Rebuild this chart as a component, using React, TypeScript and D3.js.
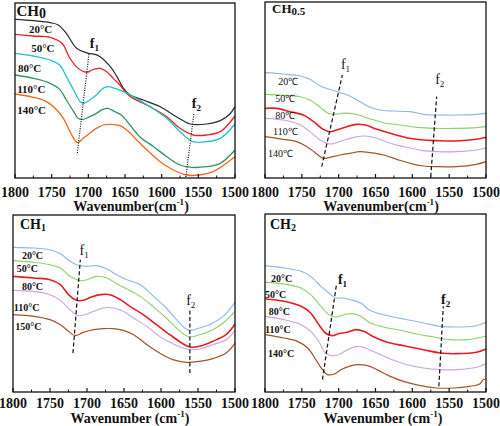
import React from 'react';
import * as d3 from 'd3';

type Pt = [number, number];

// Wavenumber ticks (cm-1)
const wnTicks = [1800, 1750, 1700, 1650, 1600, 1550, 1500];
const wnMinorTicks = [1775, 1725, 1675, 1625, 1575, 1525];

// ---------- CH0 : [wavenumber, offset intensity (a.u., downward)] ----------
const ch0_20: Pt[] = [[1800,58],[1775,62],[1752,68],[1741,75],[1730,100],[1716,145],[1700,160],[1691,163],[1684,170],[1670,200],[1661,230],[1652,265],[1643,285],[1625,300],[1602,320],[1580,350],[1561,372],[1539,372],[1520,362],[1507,342],[1500,320]];
const ch0_50: Pt[] = [[1800,103],[1775,108],[1752,112],[1736,130],[1725,175],[1714,205],[1702,217],[1695,210],[1684,205],[1675,215],[1666,235],[1657,255],[1648,280],[1639,295],[1616,320],[1593,350],[1575,385],[1557,405],[1539,405],[1520,395],[1500,348]];
const ch0_80: Pt[] = [[1800,160],[1775,168],[1752,180],[1739,195],[1730,230],[1720,270],[1711,305],[1706,310],[1698,300],[1689,285],[1680,265],[1673,260],[1664,265],[1652,275],[1639,290],[1616,320],[1593,355],[1575,395],[1557,425],[1539,425],[1520,415],[1500,372]];
const ch0_110: Pt[] = [[1800,225],[1775,235],[1752,250],[1739,268],[1730,300],[1720,335],[1714,355],[1707,358],[1698,350],[1689,340],[1680,328],[1673,325],[1664,335],[1655,345],[1645,370],[1630,410],[1611,440],[1593,470],[1575,495],[1559,502],[1539,500],[1520,490],[1500,450]];
const ch0_140: Pt[] = [[1800,282],[1775,292],[1757,305],[1743,330],[1734,355],[1725,395],[1715,428],[1707,415],[1698,400],[1689,385],[1680,375],[1670,373],[1657,377],[1645,395],[1634,420],[1620,450],[1602,485],[1584,510],[1566,525],[1548,525],[1530,515],[1500,470]];

// ---------- CH0.5 ----------
const ch05_20: Pt[] = [[1800,218],[1775,222],[1752,228],[1739,238],[1725,258],[1712,268],[1698,278],[1685,288],[1671,305],[1657,322],[1644,330],[1626,333],[1603,335],[1585,343],[1567,345],[1540,345],[1513,343],[1500,340]];
const ch05_50: Pt[] = [[1800,283],[1775,286],[1752,290],[1739,300],[1725,322],[1714,340],[1705,343],[1696,340],[1685,340],[1673,345],[1657,357],[1639,368],[1617,375],[1594,382],[1571,385],[1540,385],[1513,383],[1500,380]];
const ch05_80: Pt[] = [[1800,325],[1784,325],[1766,335],[1748,345],[1734,365],[1723,385],[1712,395],[1703,390],[1689,380],[1676,373],[1664,375],[1648,388],[1630,400],[1608,413],[1585,420],[1567,422],[1540,423],[1513,418],[1500,412]];
const ch05_110: Pt[] = [[1800,355],[1775,360],[1752,375],[1739,395],[1725,420],[1712,432],[1703,428],[1689,418],[1676,410],[1664,408],[1648,415],[1630,430],[1608,442],[1585,452],[1567,455],[1540,455],[1513,450],[1500,444]];
const ch05_140: Pt[] = [[1800,410],[1775,418],[1757,425],[1743,440],[1732,458],[1721,475],[1712,472],[1698,465],[1685,460],[1671,455],[1657,458],[1639,465],[1621,478],[1603,490],[1585,498],[1567,500],[1540,500],[1513,493],[1500,485]];

// ---------- CH1 ----------
const ch1_20: Pt[] = [[1800,103],[1772,105],[1750,110],[1736,122],[1723,145],[1712,157],[1700,160],[1687,158],[1673,168],[1660,185],[1646,200],[1628,215],[1611,248],[1593,285],[1579,320],[1568,345],[1561,352],[1548,345],[1530,330],[1516,310],[1500,268]];
const ch1_50: Pt[] = [[1800,143],[1772,148],[1750,155],[1736,165],[1723,190],[1709,203],[1700,200],[1687,190],[1673,195],[1660,212],[1646,228],[1628,250],[1611,280],[1593,315],[1579,345],[1568,365],[1561,372],[1548,365],[1530,350],[1516,330],[1500,295]];
const ch1_80: Pt[] = [[1800,190],[1772,195],[1750,200],[1736,215],[1725,245],[1714,262],[1705,262],[1694,252],[1682,245],[1669,245],[1655,260],[1642,280],[1624,305],[1606,335],[1588,365],[1572,390],[1561,402],[1548,400],[1530,385],[1512,365],[1500,333]];
const ch1_110: Pt[] = [[1800,232],[1772,235],[1750,245],[1736,262],[1723,290],[1712,308],[1703,305],[1691,295],[1678,285],[1664,285],[1651,295],[1637,315],[1619,340],[1602,370],[1584,392],[1570,405],[1561,410],[1548,408],[1530,395],[1512,380],[1500,352]];
const ch1_150: Pt[] = [[1800,305],[1772,310],[1750,320],[1736,335],[1725,355],[1716,368],[1705,358],[1691,350],[1678,347],[1664,347],[1651,352],[1637,365],[1619,395],[1602,420],[1584,440],[1566,448],[1548,445],[1530,437],[1512,420],[1505,405],[1500,390]];

// ---------- CH2 ----------
const ch2_20: Pt[] = [[1800,158],[1774,165],[1751,175],[1738,190],[1724,220],[1713,240],[1704,255],[1695,255],[1684,260],[1670,270],[1659,290],[1648,300],[1630,310],[1607,320],[1585,330],[1562,340],[1540,342],[1513,338],[1500,328]];
const ch2_50: Pt[] = [[1800,208],[1774,213],[1751,225],[1738,245],[1724,280],[1713,305],[1704,312],[1693,305],[1682,302],[1670,310],[1657,330],[1639,342],[1616,352],[1594,363],[1571,372],[1549,380],[1526,380],[1500,370]];
const ch2_80: Pt[] = [[1800,258],[1774,265],[1751,280],[1738,300],[1727,335],[1718,360],[1709,368],[1700,362],[1688,358],[1677,350],[1666,355],[1652,372],[1634,388],[1612,398],[1585,410],[1562,420],[1540,422],[1513,418],[1500,408]];
const ch2_110: Pt[] = [[1800,310],[1774,320],[1751,335],[1738,355],[1727,385],[1718,420],[1709,428],[1700,425],[1688,410],[1675,400],[1664,405],[1648,420],[1630,438],[1607,455],[1585,465],[1562,470],[1540,470],[1513,463],[1500,452]];
const ch2_140: Pt[] = [[1800,365],[1774,375],[1756,385],[1742,405],[1731,440],[1722,470],[1715,485],[1706,483],[1697,470],[1686,460],[1675,455],[1661,458],[1648,470],[1630,490],[1612,505],[1589,518],[1567,525],[1544,525],[1522,520],[1508,512],[1504,500],[1500,498]];

// Temperature labels and anchor positions [wavenumber, offset]
const tempsCH0 = ['20°C', '50°C', '80°C', '110°C', '140°C'];
const tempPosCH0: Pt[] = [[1781,99],[1778,156],[1796,216],[1797,279],[1797,342]];
const tempsCH05 = ['20℃', '50℃', '80℃', '110℃', '140℃'];
const tempPosCH05: Pt[] = [[1782,255],[1786,305],[1786,357],[1789,405],[1796,471]];
const tempsCH1 = ['20°C', '50°C', '80°C', '110°C', '150°C'];
const tempPosCH1: Pt[] = [[1788,138],[1795,177],[1788,231],[1799,294],[1797,351]];
const tempsCH2 = ['20°C', '50°C', '80°C', '110°C', '140°C'];
const tempPosCH2: Pt[] = [[1792,207],[1800,255],[1795,306],[1800,360],[1796,432]];

// Peak guide lines f1, f2 and label anchors
const f1CH0: Pt[] = [[1715,459],[1699,159]];
const f2CH0: Pt[] = [[1567,531],[1556,339]];
const fLabCH0: Pt[] = [[1698,144],[1559,324]];
const f1CH05: Pt[] = [[1723,500],[1695,225]];
const f2CH05: Pt[] = [[1575,530],[1567,290]];
const fLabCH05: Pt[] = [[1697,208],[1569,252]];
const f1CH1: Pt[] = [[1719,420],[1709,140]];
const f2CH1: Pt[] = [[1561,480],[1561,290]];
const fLabCH1: Pt[] = [[1710,125],[1566,277]];
const f1CH2: Pt[] = [[1722,500],[1703,215]];
const f2CH2: Pt[] = [[1564,520],[1558,280]];
const fLabCH2: Pt[] = [[1701,212],[1561,272]];

const colorsCH0 = ['#2a2a2a', '#e3242b', '#1fc4c4', '#2f9462', '#f4661f'];
const colorsCH = ['#8db9e4', '#8fd06c', '#e41e26', '#c8a5da', '#a4532f'];

const FONT = "'Liberation Serif', 'Times New Roman', serif";

type PanelCfg = {
  left: number; top: number; right: number; bottom: number;
  yDomain: [number, number];
  series: Pt[][]; colors: string[]; widths: number[];
  temps: string[]; tempPos: Pt[]; tempBold: boolean; tempSize: number;
  f1: Pt[]; f2: Pt[]; fLab: Pt[]; fBold: boolean; dash: string;
  title: string; sub: string; titleSize: number; subSize: number; titleDx: number; titleDy: number;
  tickY: number; axisY: number; axisX: number; axisSpace: boolean;
};

const panels: PanelCfg[] = [
  {
    left: 15, top: 3, right: 235, bottom: 178, yDomain: [9, 534],
    series: [ch0_20, ch0_50, ch0_80, ch0_110, ch0_140], colors: colorsCH0,
    widths: [1.2, 1.3, 1.3, 1.3, 1.3],
    temps: tempsCH0, tempPos: tempPosCH0, tempBold: true, tempSize: 11,
    f1: f1CH0, f2: f2CH0, fLab: fLabCH0, fBold: true, dash: '1,1.4',
    title: 'CH', sub: '0', titleSize: 15, subSize: 14, titleDx: 1.5, titleDy: 13,
    tickY: 197, axisY: 211, axisX: 131, axisSpace: false,
  },
  {
    left: 265, top: 2, right: 486, bottom: 178, yDomain: [6, 534],
    series: [ch05_20, ch05_50, ch05_80, ch05_110, ch05_140], colors: colorsCH,
    widths: [1.1, 1.1, 1.6, 1.1, 1.2],
    temps: tempsCH05, tempPos: tempPosCH05, tempBold: false, tempSize: 10,
    f1: f1CH05, f2: f2CH05, fLab: fLabCH05, fBold: false, dash: '4,2.5',
    title: 'CH', sub: '0.5', titleSize: 13, subSize: 11, titleDx: 7, titleDy: 11,
    tickY: 197, axisY: 211, axisX: 381, axisSpace: false,
  },
  {
    left: 13, top: 215, right: 235, bottom: 392, yDomain: [6, 537],
    series: [ch1_20, ch1_50, ch1_80, ch1_110, ch1_150], colors: colorsCH,
    widths: [1.1, 1.1, 1.6, 1.1, 1.2],
    temps: tempsCH1, tempPos: tempPosCH1, tempBold: true, tempSize: 10,
    f1: f1CH1, f2: f2CH1, fLab: fLabCH1, fBold: false, dash: '4,2.5',
    title: 'CH', sub: '1', titleSize: 14, subSize: 10, titleDx: 7, titleDy: 14,
    tickY: 408, axisY: 423, axisX: 130, axisSpace: true,
  },
  {
    left: 265, top: 214, right: 486, bottom: 392, yDomain: [3, 537],
    series: [ch2_20, ch2_50, ch2_80, ch2_110, ch2_140], colors: colorsCH,
    widths: [1.1, 1.1, 1.6, 1.1, 1.2],
    temps: tempsCH2, tempPos: tempPosCH2, tempBold: true, tempSize: 10,
    f1: f1CH2, f2: f2CH2, fLab: fLabCH2, fBold: true, dash: '4,2.5',
    title: 'CH', sub: '2', titleSize: 14, subSize: 10, titleDx: 5, titleDy: 15,
    tickY: 408, axisY: 423, axisX: 383, axisSpace: true,
  },
];

function Panel({ p }: { p: PanelCfg }) {
  const x = d3.scaleLinear().domain([1800, 1500]).range([p.left, p.right]);
  const y = d3.scaleLinear().domain(p.yDomain).range([p.top, p.bottom]);
  const line = d3.line<Pt>().x(d => x(d[0])).y(d => y(d[1])).curve(d3.curveCatmullRom.alpha(0.5));
  const straight = d3.line<Pt>().x(d => x(d[0])).y(d => y(d[1]));
  return (
    <g>
      {p.series.map((s, i) => (
        <path key={i} d={line(s) || ''} fill="none" stroke={p.colors[i]} strokeWidth={p.widths[i]} strokeLinejoin="round" />
      ))}
      {[p.f1, p.f2].map((f, i) => (
        <path key={'f' + i} d={straight(f) || ''} fill="none" stroke="#111" strokeWidth={1.2} strokeDasharray={p.dash} />
      ))}
      {p.fLab.map((d, i) => (
        <text key={'fl' + i} x={x(d[0])} y={y(d[1])} fontFamily={FONT} fontSize={14} fontWeight={p.fBold ? 'bold' : 'normal'} fill="#111">
          f<tspan fontSize={9} dy={3}>{i + 1}</tspan>
        </text>
      ))}
      {p.temps.map((t, i) => (
        <text key={'t' + i} x={x(p.tempPos[i][0])} y={y(p.tempPos[i][1])} fontFamily={FONT} fontSize={p.tempSize} fontWeight={p.tempBold ? 'bold' : 'normal'} fill="#111">
          {t}
        </text>
      ))}
      <rect x={p.left} y={p.top} width={p.right - p.left} height={p.bottom - p.top} fill="none" stroke="#111" strokeWidth={1.3} />
      {wnTicks.map(t => (
        <g key={'tk' + t}>
          <line x1={x(t)} x2={x(t)} y1={p.bottom} y2={p.bottom - 4} stroke="#111" strokeWidth={1.2} />
          <text x={x(t)} y={p.tickY} textAnchor="middle" fontFamily={FONT} fontSize={14} fontWeight="bold" fill="#111">{t}</text>
        </g>
      ))}
      {wnMinorTicks.map(t => (
        <line key={'mt' + t} x1={x(t)} x2={x(t)} y1={p.bottom} y2={p.bottom - 2.5} stroke="#111" strokeWidth={1} />
      ))}
      <text x={p.axisX} y={p.axisY} textAnchor="middle" fontFamily={FONT} fontSize={14} fontWeight="bold" fill="#111">
        {p.axisSpace ? 'Wavenumber (cm' : 'Wavenumber(cm'}
        <tspan fontSize={9} dy={-6}>-1</tspan>
        <tspan dy={6}>)</tspan>
      </text>
      <text x={p.left + p.titleDx} y={p.top + p.titleDy} fontFamily={FONT} fontSize={p.titleSize} fontWeight="bold" fill="#111">
        {p.title}
        <tspan fontSize={p.subSize} dy={2}>{p.sub}</tspan>
      </text>
    </g>
  );
}

export default function App() {
  return (
    <svg width={500} height={426} style={{ position: 'absolute', left: 0, top: 0, background: '#fff' }}>
      <rect x={0} y={0} width={500} height={426} fill="#fff" />
      {panels.map((p, i) => <Panel key={i} p={p} />)}
    </svg>
  );
}
